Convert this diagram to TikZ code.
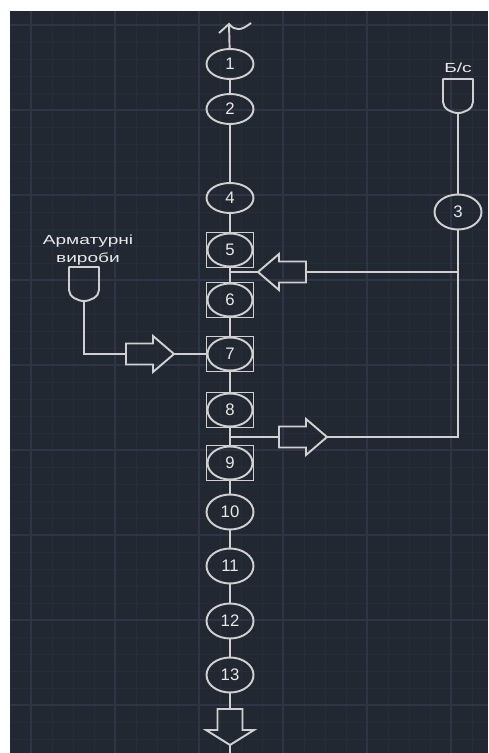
\documentclass[tikz,border=0pt]{standalone}
\usepackage{fontspec}
\setmainfont{Liberation Sans}
\usetikzlibrary{shapes.geometric}

\definecolor{bgdark}{RGB}{34,40,49}
\definecolor{gridminor}{RGB}{39,45,56}
\definecolor{gridmajor}{RGB}{47,53,68}
\definecolor{linegray}{RGB}{208,208,208}
\definecolor{textgray}{RGB}{232,232,232}

\newcommand{\wide}[1]{\scalebox{1.45}[1]{#1}}

\tikzset{
  flow/.style={draw=linegray, line width=1.1pt},
  op/.style={ellipse, flow, minimum width=0.94cm, minimum height=0.7cm, inner sep=0pt,
    text=textgray, font=\fontsize{9.5}{10}\selectfont},
  opsmall/.style={op, minimum height=0.6cm},
  opbox/.style={rectangle, flow, minimum width=0.94cm, minimum height=0.7cm, inner sep=0pt,
    text=textgray, font=\fontsize{9.5}{10}\selectfont,
    path picture={\draw[linegray, line width=1.1pt] (path picture bounding box.center)
      ellipse [x radius=0.45cm, y radius=0.33cm];}},
  lbl/.style={text=textgray, font=\fontsize{7.5}{10.2}\selectfont, align=center, inner sep=0pt},
  pics/hopper/.style={code={
    \draw[flow, line join=round] (-15,-34) -- (-15,-11) .. controls (-15,-4) and (-6,0) .. (0,0)
      .. controls (6,0) and (15,-4) .. (15,-11) -- (15,-34) -- cycle;
    \coordinate (-out) at (0,0);}},
  pics/blockarr/.style={code={
    \draw[flow] (0,-10.5) -- (27,-10.5) -- (27,-18) -- (48,0) -- (27,18) -- (27,10.5) -- (0,10.5) -- cycle;
    \coordinate (-tail) at (0,0);
    \coordinate (-tip) at (48,0);}},
  pics/downarr/.style={code={
    \draw[flow] (-12.5,0) -- (12.5,0) -- (12.5,21) -- (24,21) -- (0,36) -- (-24,21) -- (-12.5,21) -- cycle;
    \coordinate (-tail) at (0,0);
    \coordinate (-tip) at (0,36);}},
}

\begin{document}
\begin{tikzpicture}[x=0.02cm, y=-0.02cm]
\useasboundingbox (0,0) rectangle (488,753);

% background and grid
\fill[bgdark] (10,11) rectangle (488,753);
\foreach \y in {25,42,...,753} \draw[gridminor, line width=0.5pt] (10,\y) -- (488,\y);
\foreach \x in {10,31,...,488} \draw[gridminor, line width=0.5pt] (\x,11) -- (\x,753);
\foreach \y in {25,110,...,753} \draw[gridmajor, line width=0.8pt] (10,\y) -- (488,\y);
\foreach \x in {31,115,...,488} \draw[gridmajor, line width=0.8pt] (\x,11) -- (\x,753);

% main line
\node[opsmall] (n1) at (230,64) {1};
\node[opsmall] (n2) at (230,109) {2};
\node[opsmall] (n4) at (230,198) {4};
\node[opbox] (n5) at (230,250) {5};
\node[opbox] (n6) at (230,300) {6};
\node[opbox] (n7) at (230,354) {7};
\node[opbox] (n8) at (230,410) {8};
\node[opbox] (n9) at (230,463) {9};
\node[op] (n10) at (230,512) {10};
\node[op] (n11) at (230,566) {11};
\node[op] (n12) at (230,621) {12};
\node[op] (n13) at (230,675) {13};
\pic (arDown) at (230,709) {downarr};

\coordinate (topend) at (229,24);
\coordinate (j5) at (230,272);
\coordinate (j8) at (230,437);
\coordinate (bottomend) at (230,753);

% break mark
\draw[flow] (219,33) -- (topend) .. controls (235,31) and (241,31) .. (251,23);

\draw[flow] (topend) -- (n1);
\draw[flow] (n1) -- (n2);
\draw[flow] (n2) -- (n4);
\draw[flow] (n4) -- (n5);
\draw[flow] (n5) -- (j5) -- (n6);
\draw[flow] (n6) -- (n7);
\draw[flow] (n7) -- (n8);
\draw[flow] (n8) -- (j8) -- (n9);
\draw[flow] (n9) -- (n10);
\draw[flow] (n10) -- (n11);
\draw[flow] (n11) -- (n12);
\draw[flow] (n12) -- (n13);
\draw[flow] (n13) -- (arDown-tail);
\draw[flow] (arDown-tip) -- (bottomend);

% concrete mix branch
\node[lbl] (bslabel) at (458,68) {\wide{Б/с}};
\pic (bs) at (458,113) {hopper};
\node[op] (n3) at (458,212) {3};
\coordinate (jR1) at (458,272);
\coordinate (jR2) at (458,437);
\pic[rotate=180] (arTop) at (306,272) {blockarr};
\pic (arLow) at (279,437) {blockarr};

\draw[flow] (bs-out) -- (n3);
\draw[flow] (n3) -- (jR1) -- (jR2) -- (arLow-tip);
\draw[flow] (jR1) -- (arTop-tail);
\draw[flow] (arTop-tip) -- (j5);
\draw[flow] (j8) -- (arLow-tail);

% reinforcement branch
\node[lbl] (armlabel) at (88,250) {\wide{Арматурні}\\ \wide{вироби}};
\pic (arm) at (84,301) {hopper};
\pic (arLeft) at (126,354) {blockarr};

\draw[flow] (arm-out) |- (arLeft-tail);
\draw[flow] (arLeft-tip) -- (n7);

\end{tikzpicture}
\end{document}
